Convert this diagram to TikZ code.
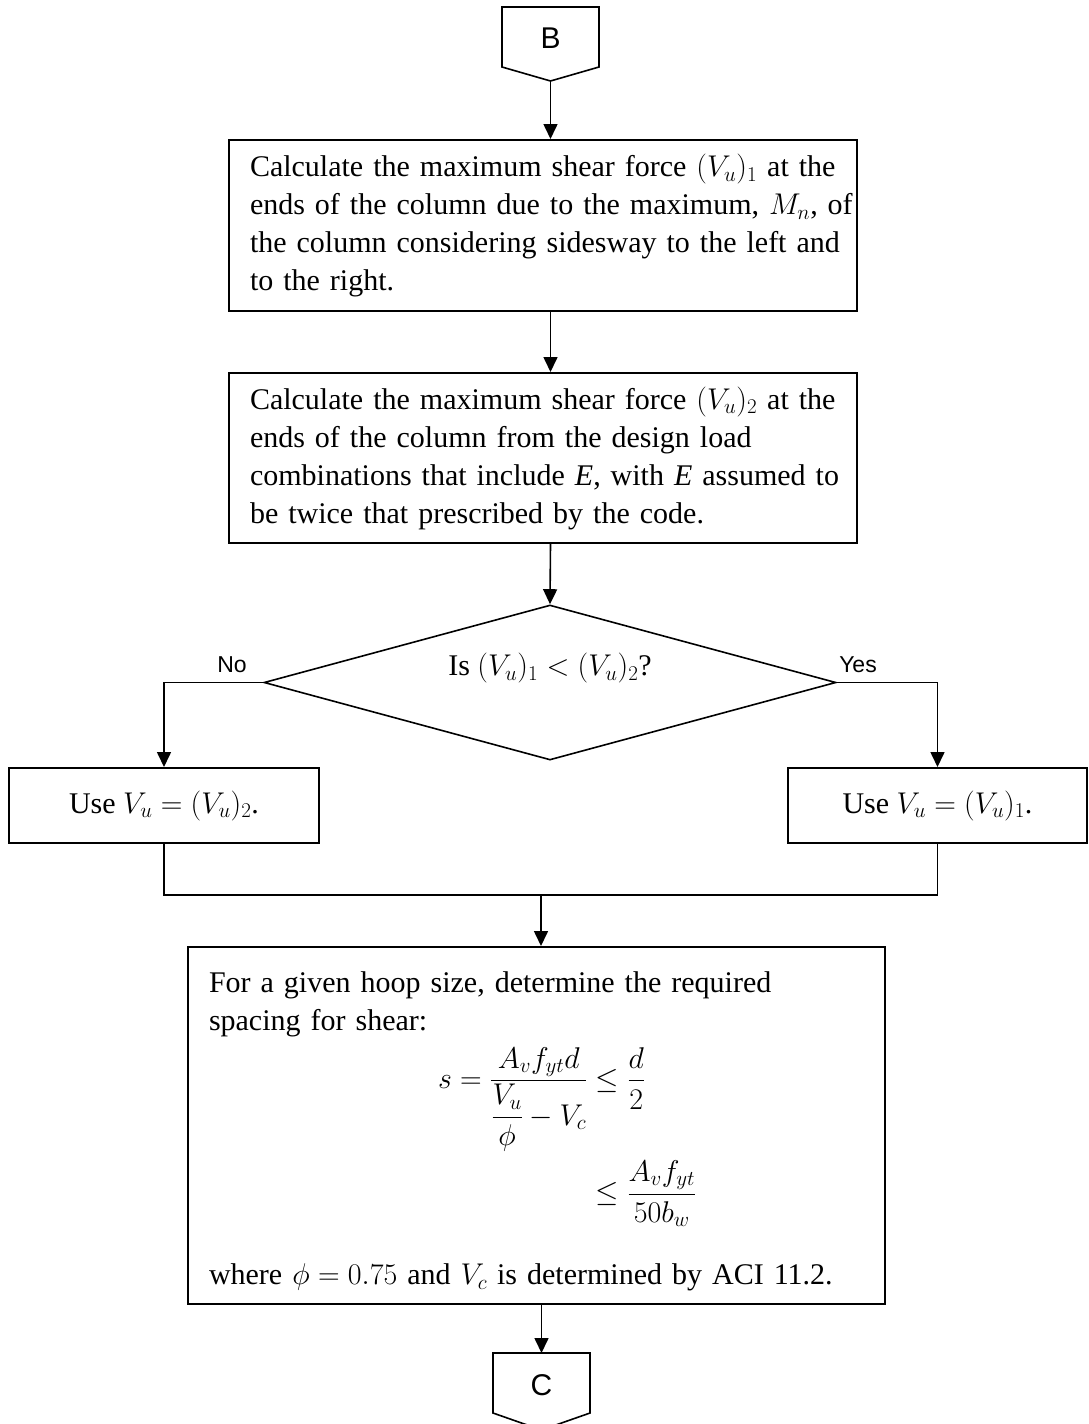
\RequirePackage{fix-cm}
\documentclass[tikz,border=0pt]{standalone}
\usepackage{amsmath}
\usepackage{fontspec}
\setmainfont{Liberation Serif}
\newfontfamily\sansf{Liberation Sans}
\usetikzlibrary{arrows.meta,shapes.geometric}
\begin{document}
\begin{tikzpicture}[x=1pt,y=-1pt,
  every node/.style={font=\fontsize{30}{38}\selectfont},
  box/.style={draw,line width=2pt,rectangle,inner xsep=21pt,inner ysep=0pt,align=left},
  conn/.style={line width=1.6pt},
  arr/.style={conn,-{Triangle[width=14pt,length=15pt]}},
  lab/.style={font=\sansf\fontsize{23}{26}\selectfont},
  conbox/.style={line width=1.6pt},
]
\useasboundingbox (0,0) rectangle (1089,1424);

% connector B
\draw[conbox] (502,7) -- (599,7) -- (599,67) -- (550.5,81) -- (502,67) -- cycle;
\node[font=\sansf\fontsize{30}{36}\selectfont] (B) at (550.5,38) {B};
\coordinate (Btip) at (550.5,81);

% box 1
\node[box, text width=586pt, minimum height=171pt] (b1) at (543,225.5)
 {\mbox{Calculate the maximum shear force $(V_u)_1$ at the}\\
  \mbox{ends of the column due to the maximum, $M_n$, of}\\
  \mbox{the column considering sidesway to the left and}\\
  \mbox{to the right.}};

% box 2
\node[box, text width=586pt, minimum height=170pt] (b2) at (543,458)
 {\mbox{Calculate the maximum shear force $(V_u)_2$ at the}\\
  \mbox{ends of the column from the design load}\\
  \mbox{combinations that include \textit{E}, with \textit{E} assumed to}\\
  \mbox{be twice that prescribed by the code.}};

% decision
\node[draw, line width=1.6pt, diamond, aspect=3.69, minimum width=572pt,
      minimum height=155pt, inner sep=0pt, text depth=36pt] (d) at (550,682.5)
 {Is $(V_u)_1 < (V_u)_2$?};

\node[lab] (no) at (232,665) {No};
\node[lab] (yes) at (858,665) {Yes};

% side boxes
\node[box, align=center, inner xsep=0pt, minimum width=310pt, minimum height=75pt] (lb) at (164,805.5)
 {Use $V_u = (V_u)_2$.};
\node[box, align=center, inner xsep=0pt, minimum width=299pt, minimum height=75pt] (rb) at (937.5,805.5)
 {Use $V_u = (V_u)_1$.};

% box 4
\node[box, text width=655pt, minimum height=357pt] (b4) at (536.5,1125.5)
 {\mbox{\rule{0pt}{33pt}For a given hoop size, determine the required}\\
  \mbox{spacing for shear:}\\[9pt]
  \hspace*{229pt}$\displaystyle s=\frac{A_vf_{yt}d}{\dfrac{V_u}{\phi}-V_c}\le\frac{d}{2}$\\[8pt]
  \hspace*{229pt}$\displaystyle\hphantom{s=\frac{A_vf_{yt}d}{\dfrac{V_u}{\phi}-V_c}}\le\frac{A_vf_{yt}}{50b_w}$\\[36pt]
  \mbox{where $\phi=0.75$ and $V_c$ is determined by ACI 11.2.}};

% connector C
\draw[conbox] (493,1353) -- (590,1353) -- (590,1413) -- (541.5,1430) -- (493,1413) -- cycle;
\node[font=\sansf\fontsize{30}{36}\selectfont] (C) at (541.5,1385) {C};
\coordinate (Ctop) at (541.5,1353);

% connectors
\draw[arr] (Btip) -- (Btip |- b1.north);
\draw[arr] (Btip |- b1.south) -- (Btip |- b2.north);
\draw[arr] (Btip |- b2.south) -- (d.north);
\draw[arr] (d.west) -| (lb.north);
\draw[arr] (d.east) -| (rb.north);
\coordinate (mrg) at (541,895);
\draw[conn] (lb.south) |- (mrg) -| (rb.south);
\draw[arr] (mrg) -- (mrg |- b4.north);
\draw[arr] (Ctop |- b4.south) -- (Ctop);
\end{tikzpicture}
\end{document}
